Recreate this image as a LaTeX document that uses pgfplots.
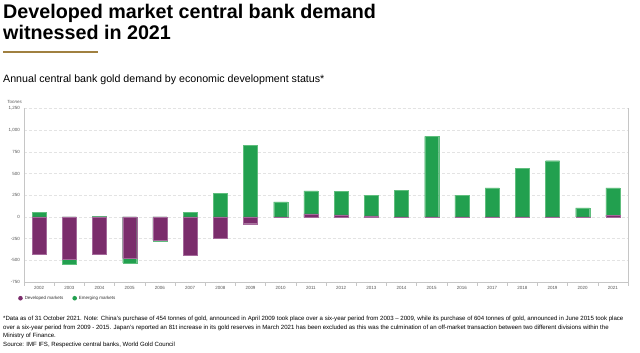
\documentclass[border=0pt]{standalone}
\usepackage{fontspec}
\setmainfont{Liberation Sans}
\usepackage{pgfplots}
\usepackage{pgfplotstable}
\pgfplotsset{compat=1.18}
\definecolor{dm}{RGB}{123,45,108}
\definecolor{dmedge}{RGB}{165,105,155}
\definecolor{emg}{RGB}{34,160,79}
\definecolor{emedge}{RGB}{95,190,125}
\definecolor{goldline}{RGB}{160,128,64}
\definecolor{txtgray}{RGB}{85,85,85}
\pgfplotstableread{
idx dev em
0 -425 50
1 -486 -58
2 -425 10
3 -478 -51
4 -263 -11
5 -436 50
6 -240 274
7 -78 822
8 -4 174
9 35 266
10 23 270
11 12 239
12 -2 309
13 -3 929
14 -3 251
15 -3 336
16 -3 564
17 -3 648
18 -1 104
19 20 316
}\cbdata
\begin{document}
\begin{tikzpicture}
\fill[white] (0,0) rectangle (640bp,353bp);
\useasboundingbox (0,0) rectangle (640bp,353bp);
\node[anchor=base west, inner sep=0pt, font=\fontsize{19.8}{22}\selectfont\bfseries] at (3bp,334.5bp) {Developed market central bank demand};
\node[anchor=base west, inner sep=0pt, font=\fontsize{19.8}{22}\selectfont\bfseries] at (3bp,313bp) {witnessed in 2021};
\draw[goldline, line width=2bp] (3bp,301.3bp) -- (98bp,301.3bp);
\node[anchor=base west, inner sep=0pt, font=\fontsize{10.7}{12}\selectfont] at (3bp,270.7bp) {Annual central bank gold demand by economic development status*};
\node[anchor=west, inner sep=0pt, text=txtgray, font=\fontsize{4.5}{5}\selectfont\itshape] at (7bp,251.3bp) {Tonnes};
\begin{axis}[
  at={(24bp,71bp)}, anchor=south west,
  scale only axis, width=604bp, height=173.5bp,
  xmin=-0.5, xmax=19.5, ymin=-750, ymax=1250,
  axis x line*=bottom, axis y line*=box,
  axis line style={gray!45, line width=0.7bp},
  ytick={-750,-500,...,1250},
  xtick={0,...,19},
  xticklabels={2002,2003,2004,2005,2006,2007,2008,2009,2010,2011,2012,2013,2014,2015,2016,2017,2018,2019,2020,2021},
  minor xtick={-0.5,0.5,...,19.5},
  major tick length=0pt, minor tick length=4bp,
  tick align=outside, ytick pos=left,
  minor tick style={gray!45, line width=0.5bp},
  ymajorgrids, major grid style={densely dashed, gray!22, line width=0.5bp},
  /pgf/number format/assume math mode=true,
  /pgf/number format/1000 sep={,},
  yticklabel style={font=\fontsize{4.5}{5}\selectfont, text=txtgray, inner sep=0pt, xshift=-4bp},
  xticklabel style={font=\fontsize{4.5}{5}\selectfont, text=txtgray, anchor=center, yshift=-5.7bp},
  ybar, bar width=14bp,
  legend columns=2, reverse legend,
  legend style={at={(-0.01,-0.0935)}, anchor=west, draw=none, fill=none, inner sep=0pt,
    font=\fontsize{4.5}{5}\selectfont, text=black!80,
    /tikz/every even column/.append style={column sep=7bp}},
  legend image code/.code={\fill[#1, draw=none] (0bp,0bp) circle (2.3bp);},
]
\addplot[bar shift=0pt, fill=emg, draw=emedge, line width=0.4bp]
  table[x=idx, y expr={ifthenelse(\thisrow{em}<0, min(\thisrow{dev},0)+\thisrow{em}, max(\thisrow{dev},0)+\thisrow{em})}] {\cbdata};
\addlegendentry{Emerging markets}
\addplot[bar shift=0pt, fill=dm, draw=dmedge, line width=0.4bp]
  table[x=idx, y=dev] {\cbdata};
\addlegendentry{Developed markets}
\end{axis}
\begin{scope}[font=\fontsize{6.1}{7}\selectfont]
\node[anchor=base west, inner sep=0pt] at (3bp,32.5bp) {*Data as of 31 October 2021. Note: China's purchase of 454 tonnes of gold, announced in April 2009 took place over a six-year period from 2003 – 2009, while its purchase of 604 tonnes of gold, announced in June 2015 took place};
\node[anchor=base west, inner sep=0pt] at (3bp,24bp) {over a six-year period from 2009 - 2015. Japan's reported an 81t increase in its gold reserves in March 2021 has been excluded as this was the culmination of an off-market transaction between two different divisions within the};
\node[anchor=base west, inner sep=0pt] at (3bp,15.5bp) {Ministry of Finance.};
\node[anchor=base west, inner sep=0pt] at (3bp,7bp) {Source: IMF IFS, Respective central banks, World Gold Council};
\end{scope}
\end{tikzpicture}
\end{document}
